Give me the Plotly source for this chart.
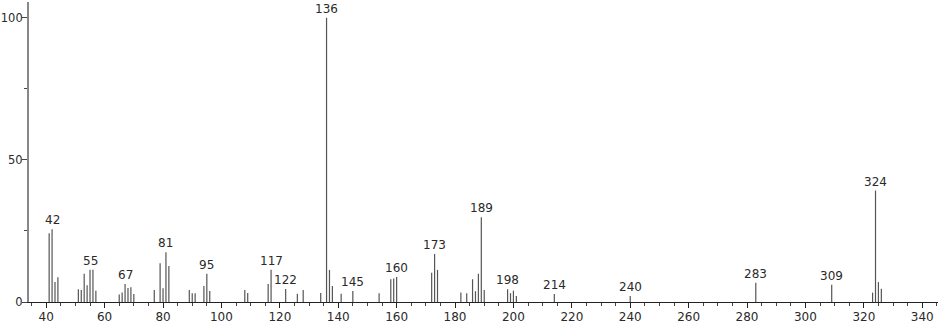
import plotly.graph_objects as go

masses = [41, 42, 43, 44, 51, 52, 53, 54, 55, 56, 57, 65, 66, 67, 68, 69, 70,
          77, 79, 80, 81, 82, 89, 90, 91, 94, 95, 96, 108, 109, 116, 117, 122,
          126, 128, 134, 136, 137, 138, 141, 145, 154, 158, 159, 160, 172, 173,
          174, 182, 184, 186, 187, 188, 189, 190, 198, 199, 200, 201, 214, 240,
          283, 309, 323, 324, 325, 326]
intensities = [24.2, 25.6, 7.0, 8.7, 4.5, 4.2, 9.9, 5.9, 11.3, 11.3, 4.0, 2.6, 3.3,
               6.3, 4.9, 5.2, 2.8, 4.2, 13.6, 4.8, 17.5, 12.7, 4.2, 3.1, 3.1, 5.6,
               9.9, 3.9, 4.2, 3.2, 6.3, 11.3, 4.6, 2.9, 4.2, 3.2, 100.0, 11.3, 5.6,
               2.9, 3.9, 3.1, 8.0, 8.3, 8.8, 10.3, 16.9, 11.3, 3.3, 3.1, 8.0, 3.8,
               9.9, 29.8, 4.2, 4.5, 3.1, 4.0, 2.1, 2.8, 2.1, 6.8, 6.1, 3.3, 39.2,
               7.0, 4.7]
labeled_peaks = [42, 55, 67, 81, 95, 117, 122, 136, 145, 160, 173, 189, 198, 214,
                 240, 283, 309, 324]
y_ticks = [0, 50, 100]
x_ticks = list(range(40, 341, 20))

FONT = "DejaVu Sans"
FSIZE = 12
TXT = "#2a2a2a"

xs, ys = [], []
for m, v in zip(masses, intensities):
    xs += [m, m, None]
    ys += [0, v, None]

fig = go.Figure()
fig.add_trace(go.Scatter(x=xs, y=ys, mode="lines",
                         line=dict(color="#555555", width=1.2),
                         hoverinfo="skip", showlegend=False))

lookup = dict(zip(masses, intensities))
for m in labeled_peaks:
    fig.add_annotation(x=m, y=lookup[m], text=str(m), showarrow=False,
                       yanchor="bottom", xanchor="center", yshift=0,
                       font=dict(family=FONT, size=FSIZE, color=TXT))

fig.update_layout(
    width=940, height=324,
    margin=dict(l=29, r=2, t=2, b=22, autoexpand=False),
    paper_bgcolor="white", plot_bgcolor="white",
    font=dict(family=FONT, size=FSIZE, color=TXT),
    showlegend=False,
)
fig.update_xaxes(range=[34.1, 345.4], tickvals=x_ticks,
                 ticktext=[str(t) for t in x_ticks], automargin=False,
                 showgrid=False, zeroline=False, showline=True,
                 linecolor="#222222", linewidth=1,
                 ticks="outside", ticklen=5, tickcolor="#222222",
                 ticklabelstandoff=-1,
                 minor=dict(dtick=5, tick0=0, ticks="outside", ticklen=3,
                            tickcolor="#444444"),
                 tickfont=dict(family=FONT, size=FSIZE, color=TXT))
fig.update_yaxes(range=[0, 105.5], tickvals=y_ticks, automargin=False,
                 showgrid=False, zeroline=False, showline=True,
                 linecolor="#888888", linewidth=2,
                 ticks="outside", ticklen=5, tickcolor="#444444",
                 ticklabelstandoff=-3,
                 minor=dict(tickvals=[25, 75], ticks="outside", ticklen=3,
                            tickcolor="#444444"),
                 tickfont=dict(family=FONT, size=11.5, color=TXT))

fig.write_html("out.html")
